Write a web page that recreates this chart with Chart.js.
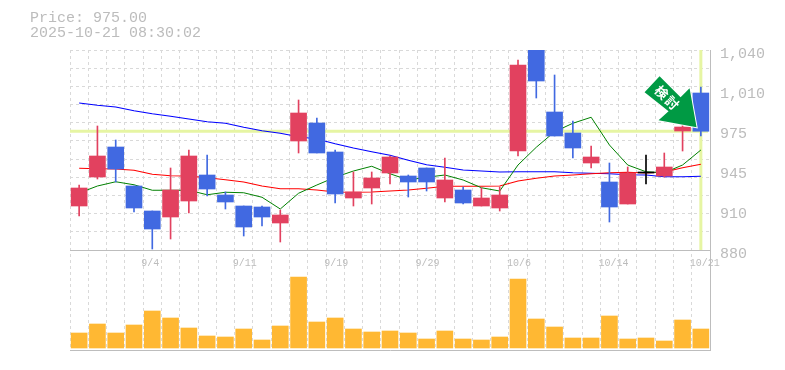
<!DOCTYPE html>
<html>
<head>
<meta charset="utf-8">
<script src="https://cdn.jsdelivr.net/npm/chart.js@4/dist/chart.umd.min.js"></script>
<style>
  html, body { margin: 0; padding: 0; background: #fff; }
  #wrap { width: 785px; height: 370px; }
</style>
</head>
<body>
<div id="wrap"><canvas id="chart" width="785" height="370"></canvas></div>
<script>
const priceTitle = "Price: 975.00";
const timeTitle = "2025-10-21 08:30:02";
const signalText = "検討";

const dates = ["", "", "", "", "9/4", "", "", "", "", "9/11", "", "", "", "", "9/19", "", "", "", "", "9/29",
    "", "", "", "", "10/6", "", "", "", "", "10/14", "", "", "", "", "10/21"];

const opens = [915.2, 938.4, 962.4, 931.2, 911.2, 906.4, 919.2, 940, 924, 915.2, 914.4, 901.6, 967.2, 981.6, 958.4, 921.6, 929.6, 941.6,
    939.2, 945.6, 921.6, 928, 915.2, 913.6, 959.2, 1044, 990.4, 973.6, 949.6, 934.4, 916.8, 942.4, 939.2, 975.2, 1005.6];
const closes = [929.6, 955.2, 944.8, 913.6, 896.8, 928, 955.2, 928.8, 918.4, 898.4, 906.4, 908, 989.6, 957.6, 924.8, 926.4, 937.6, 954.4,
    934.4, 934.4, 936, 917.6, 921.6, 924, 1028, 1015.2, 971.2, 961.6, 954.4, 914.4, 941.6, 941.6, 946.4, 978.4, 975];
const highs = [932, 979.2, 968, 931.2, 911.2, 945.6, 960, 956, 926.4, 915.2, 915.2, 912, 1000, 985.6, 960, 942.4, 942.4, 955.2,
    940, 945.6, 953.6, 930.4, 929.6, 930.4, 1032, 1048, 1020, 983.2, 963.2, 949.6, 946.4, 956, 957.6, 980, 1010.4];
const lows = [907.2, 936.8, 934.4, 910.4, 880.8, 888.8, 909.6, 923.2, 912.8, 891.2, 899.2, 886.4, 957.6, 957.6, 917.6, 915.2, 916.8, 932.8,
    922.4, 927.2, 918.4, 916.8, 915.2, 911.2, 955.2, 1001.6, 971.2, 953.6, 945.6, 902.4, 916.8, 932.8, 938.4, 959.2, 971.2];

const maShort = [925.6, 931.2, 934.6, 932.2, 927.8, 927.8, 927.8, 924.2, 926.2, 925.8, 922.2, 912.8, 925.4, 932, 938.2, 943.2, 947, 941,
    936, 938.2, 940, 936, 929.8, 927.2, 948, 962.2, 974.6, 981.4, 986.2, 964, 948, 942.6, 941.8, 948, 960];
const maMid = [945.4, 945, 944.8, 943.8, 940.6, 939.4, 939.2, 937.8, 936.2, 934.4, 931.2, 929, 929, 928, 926.4, 926.2, 926.4, 927.2,
    928, 929.4, 931, 931, 931, 931.2, 935.2, 937.4, 939.2, 940, 941, 941.8, 942.2, 941.6, 942.4, 945.8, 948.6];
const maLong = [997.6, 995.8, 994.4, 991.4, 989, 987, 984.8, 982.6, 981.4, 978.2, 975.4, 973.4, 970.6, 968.8, 965, 961.6, 958.6, 955.8,
    951.8, 948.2, 946.2, 944, 943.2, 942.4, 942.6, 942.6, 942.6, 941.8, 941.4, 941, 940.2, 940, 938.6, 938.6, 939, 939];

const volumes = [15, 24, 15, 23, 37, 30, 20, 12, 11, 19, 8, 22, 71, 26, 30, 19, 16, 17,
    15, 9, 17, 9, 8, 11, 69, 29, 21, 10, 10, 32, 9, 10, 7, 28, 19];

const priceTickValues = [1040, 1008, 976, 944, 912, 880];
const priceTickLabels = ["1,040", "1,010", "975", "945", "910", "880"];
const lastPrice = 975;

const GREY_TEXT = "#bcbcbc";
const GRID = "#d9d9d9";
const AXIS = "#bdbdbd";
const MONO = "'Liberation Mono', monospace";

function candleColor(i) {
    if (closes[i] > opens[i]) return "#e2415f";
    if (i === 31) return "#000000";
    return "#4169e1";
}
const candleColors = dates.map((d, i) => candleColor(i));

// title text, last price guides and the green signal arrow
const extrasPlugin = {
    id: "extras",
    beforeDatasetsDraw(chart) {
        const { ctx, chartArea, scales } = chart;
        const py = scales.y.getPixelForValue(lastPrice);
        const px = scales.x.getPixelForValue(dates.length - 1);
        ctx.save();
        ctx.fillStyle = "#e6f5a3";
        ctx.fillRect(chartArea.left, py - 1.5, chartArea.width - 2, 3);
        ctx.fillRect(px - 1.5, chartArea.top, 3, scales.y.getPixelForValue(880) - chartArea.top);
        ctx.restore();
    },
    afterDraw(chart) {
        const { ctx, scales } = chart;
        ctx.save();
        ctx.fillStyle = GREY_TEXT;
        ctx.font = "15px " + MONO;
        ctx.textBaseline = "middle";
        ctx.fillText(priceTitle, 30, 18);
        ctx.fillText(timeTitle, 30, 33);

        // arrow is anchored on the last but one candle
        const tipX = scales.x.getPixelForValue(dates.length - 2) + 14;
        const tipY = scales.y.getPixelForValue(lastPrice) - 4;
        const shape = [[-37, -51], [-52, -35], [-28, -16], [-38, -7], [0, 0], [-7, -39], [-16, -30]];
        ctx.translate(tipX, tipY);
        ctx.beginPath();
        shape.forEach((p, i) => i ? ctx.lineTo(p[0], p[1]) : ctx.moveTo(p[0], p[1]));
        ctx.closePath();
        ctx.lineWidth = 2;
        ctx.strokeStyle = "#ffffff";
        ctx.stroke();
        ctx.fillStyle = "#009a44";
        ctx.fill();
        ctx.translate(-29, -29);
        ctx.rotate(Math.PI / 4);
        ctx.fillStyle = "#ffffff";
        ctx.font = "bold 13px 'Noto Sans CJK JP'";
        ctx.letterSpacing = "2px";
        ctx.textAlign = "center";
        ctx.textBaseline = "middle";
        ctx.fillText(signalText, 0, 0);
        ctx.restore();
    }
};

new Chart(document.getElementById("chart").getContext("2d"), {
    data: {
        labels: dates,
        datasets: [
            { type: "bar", label: "body", data: dates.map((d, i) => [opens[i], closes[i]]),
              backgroundColor: candleColors, barThickness: 16, grouped: false, order: 1, yAxisID: "y" },
            { type: "bar", label: "wick", data: dates.map((d, i) => [lows[i], highs[i]]),
              backgroundColor: candleColors, barThickness: 1, grouped: false, order: 2, yAxisID: "y" },
            { type: "line", label: "ma5", data: maShort, borderColor: "#008000", borderWidth: 1,
              pointRadius: 0, tension: 0, order: 3, yAxisID: "y" },
            { type: "line", label: "ma25", data: maMid, borderColor: "#ff0000", borderWidth: 1.2,
              pointRadius: 0, tension: 0, order: 3, yAxisID: "y" },
            { type: "line", label: "ma75", data: maLong, borderColor: "#0000ff", borderWidth: 1.2,
              pointRadius: 0, tension: 0, order: 3, yAxisID: "y" },
            { type: "bar", label: "volume", data: volumes, backgroundColor: "#ffb833",
              barThickness: 16, grouped: false, order: 4, yAxisID: "yVol" }
        ]
    },
    plugins: [extrasPlugin],
    options: {
        responsive: false,
        animation: false,
        layout: { padding: { left: 70, top: 50, right: 0, bottom: 0 } },
        plugins: { legend: { display: false }, title: { display: false }, tooltip: { enabled: false } },
        scales: {
            x: {
                type: "category",
                position: { y: 880 },
                offset: true,
                grid: { display: false },
                border: { display: true, color: AXIS, width: 1 },
                ticks: {
                    autoSkip: false, maxRotation: 0, minRotation: 0, padding: -1,
                    align: "start",
                    labelOffset: -11,
                    color: GREY_TEXT, font: { family: MONO, size: 10 }
                }
            },
            // bottom axis only carries the dashed vertical grid and the closing rule
            xBase: {
                type: "category",
                position: "bottom",
                offset: true,
                labels: dates,
                grid: { display: true, offset: true, color: GRID, drawTicks: false },
                border: { display: true, color: AXIS, width: 1, dash: [3, 3] },
                ticks: { display: false },
                afterFit(scale) { scale.height = 20; }
            },
            y: {
                position: "right",
                min: 800,
                max: 1040,
                grid: { display: false, drawTicks: false },
                border: { display: true, color: AXIS, width: 1 },
                afterBuildTicks(scale) { scale.ticks = priceTickValues.map(v => ({ value: v })); },
                afterFit(scale) { scale.width = 75; },
                ticks: {
                    autoSkip: false,
                    padding: 10,
                    labelOffset: 4,
                    color: GREY_TEXT,
                    font: { family: MONO, size: 15 },
                    callback(v) { return priceTickLabels[priceTickValues.indexOf(v)]; }
                }
            },
            // 11 dashed rows in the upper pane, none in the volume pane
            yGrid: {
                position: "left",
                min: -5.5,
                max: 11,
                afterBuildTicks(scale) {
                    scale.ticks = [];
                    for (let i = 0; i <= 11; i++) scale.ticks.push({ value: i });
                },
                afterFit(scale) { scale.width = 0; },
                grid: { color: c => c.tick && c.tick.value > 0 ? GRID : "rgba(0,0,0,0)", drawTicks: false },
                border: { display: false, dash: [3, 3] },
                ticks: { display: false }
            },
            yVol: {
                display: false,
                min: -2,
                max: 298
            }
        }
    }
});
</script>
</body>
</html>
